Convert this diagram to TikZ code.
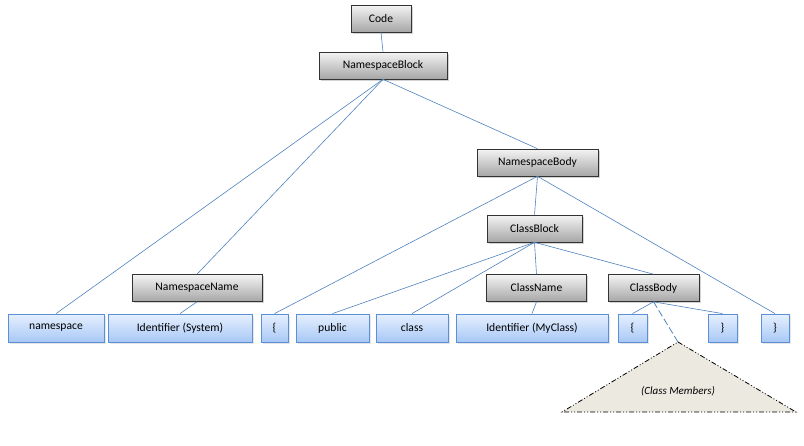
\documentclass[tikz,border=0pt]{standalone}
\usepackage{fontspec}
\setmainfont{Carlito}
\usetikzlibrary{shadows}
\definecolor{edgec}{HTML}{4F81BD}
\definecolor{bluebord}{HTML}{5B8FD8}
\definecolor{bluetop}{HTML}{E6F0FE}
\definecolor{bluebot}{HTML}{A8C8F6}
\definecolor{greytop}{HTML}{F4F4F4}
\definecolor{greybot}{HTML}{A6A6A6}
\definecolor{trifill}{HTML}{ECEAE0}
\begin{document}
\begin{tikzpicture}[x=1pt,y=-1pt,
  every node/.style={font=\fontsize{11.6}{13}\selectfont},
  gbox/.style={draw=black!80, line width=0.6pt, top color=greytop, bottom color=greybot,
     drop shadow={shadow xshift=1.5pt, shadow yshift=-1.5pt, opacity=0.35},
     inner sep=0pt, minimum height=27pt},
  bbox/.style={draw=bluebord, line width=0.8pt, top color=bluetop, bottom color=bluebot,
     drop shadow={shadow xshift=1.5pt, shadow yshift=-1.5pt, opacity=0.2},
     inner sep=0pt, minimum height=28pt},
  edge/.style={draw=edgec, line width=0.6pt}]
\useasboundingbox (0,0) rectangle (804,445);
% grey nodes
\node[gbox, minimum width=60pt] (code) at (381,18.5) {Code};
\node[gbox, minimum width=128pt] (nsblock) at (383,65.5) {NamespaceBlock};
\node[gbox, minimum width=121pt] (nsbody) at (537.5,162.5) {NamespaceBody};
\node[gbox, minimum width=95pt] (cblock) at (534.5,228.5) {ClassBlock};
\node[gbox, minimum width=130pt] (nsname) at (197,288) {NamespaceName};
\node[gbox, minimum width=100pt] (cname) at (536.5,288) {ClassName};
\node[gbox, minimum width=91pt] (cbody) at (653.5,288) {ClassBody};
% blue nodes
\node[bbox, minimum width=96pt] (ns) at (56,328) {namespace};
\node[bbox, minimum width=144pt] (idsys) at (180,328) {Identifier (System)};
\node[bbox, minimum width=27pt] (lb1) at (274.5,328) {\{};
\node[bbox, minimum width=73pt] (pub) at (332.5,328) {public};
\node[bbox, minimum width=72pt] (cls) at (412,328) {class};
\node[bbox, minimum width=152pt] (idcls) at (532,328) {Identifier (MyClass)};
\node[bbox, minimum width=29pt] (lb2) at (632.5,328) {\{};
\node[bbox, minimum width=29pt] (rb2) at (722.5,328) {\}};
\node[bbox, minimum width=28pt] (rb1) at (775,328) {\}};
% triangle
\coordinate (apex) at (678,342);
\coordinate (bl) at (562,412);
\coordinate (br) at (796,412);
\filldraw[fill=trifill, draw=black, line width=0.8pt, dash pattern=on 5pt off 2pt on 1pt off 2pt on 1pt off 2pt]
  (apex) -- (br) -- (bl) -- cycle;
\node[font=\fontsize{11}{13}\selectfont\itshape] (members) at (678,391) {(Class Members)};
% edges
\draw[edge] (code.south) -- (nsblock.north);
\draw[edge] (nsblock.south) -- (ns.north);
\draw[edge] (nsblock.south) -- (nsname.north);
\draw[edge] (nsblock.south) -- (nsbody.north);
\draw[edge] (nsname.south) -- (idsys.north);
\draw[edge] (nsbody.south) -- (lb1.north);
\draw[edge] (nsbody.south) -- (cblock.north);
\draw[edge] (nsbody.south) -- (rb1.north);
\draw[edge] (cblock.south) -- (pub.north);
\draw[edge] (cblock.south) -- (cls.north);
\draw[edge] (cblock.south) -- (cname.north);
\draw[edge] (cblock.south) -- (cbody.north);
\draw[edge] (cname.south) -- (idcls.north);
\draw[edge] (cbody.south) -- (lb2.north);
\draw[edge] (cbody.south) -- (rb2.north);
\draw[edge, line width=0.8pt, dash pattern=on 7pt off 3pt] (cbody.south) -- (apex);
\end{tikzpicture}
\end{document}
